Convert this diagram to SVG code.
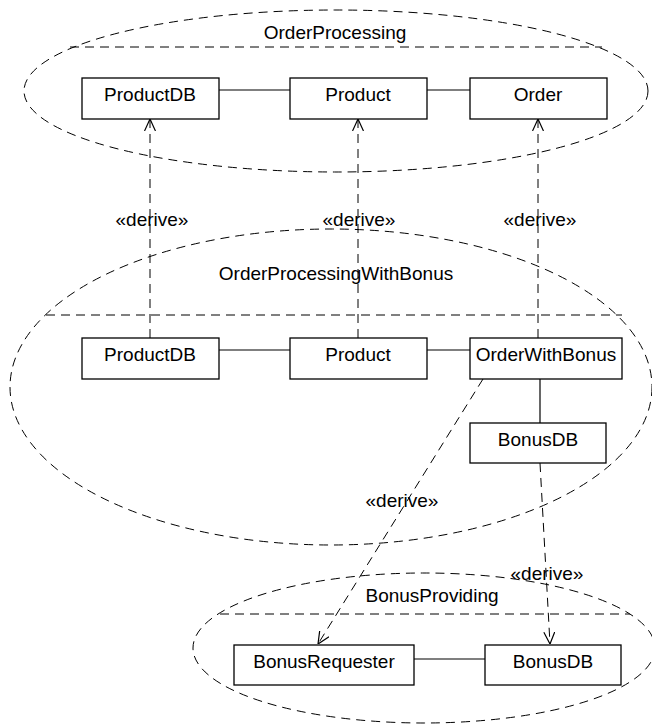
<svg xmlns="http://www.w3.org/2000/svg" width="652" height="725" viewBox="0 0 652 725">
  <style>
    .pkg { fill: none; stroke: #000; stroke-width: 1; stroke-dasharray: 9 6; }
    .box { fill: #fff; stroke: #000; stroke-width: 1.3; }
    .assoc { fill: none; stroke: #000; stroke-width: 1.2; }
    .dep { fill: none; stroke: #000; stroke-width: 1; stroke-dasharray: 9 6; marker-end: url(#open); }
    text { font-family: "Liberation Sans", Arial, sans-serif; font-size: 19px; fill: #000; text-anchor: middle; }
  </style>
  <defs>
    <marker id="open" viewBox="0 0 12 12" refX="12" refY="6" markerWidth="12" markerHeight="12" markerUnits="userSpaceOnUse" orient="auto">
      <path d="M0,0.5 L12,6 L0,11.5" fill="none" stroke="#000" stroke-width="1.2"/>
    </marker>
  </defs>

  <!-- package outlines -->
  <g id="pkg-OrderProcessing">
    <ellipse class="pkg" cx="336" cy="91" rx="312" ry="81"/>
    <line class="pkg" x1="70" y1="47" x2="602" y2="47"/>
    <text x="335" y="39">OrderProcessing</text>
  </g>
  <g id="pkg-OrderProcessingWithBonus">
    <ellipse class="pkg" cx="331" cy="387" rx="321" ry="158"/>
    <line class="pkg" x1="46" y1="315" x2="622" y2="315"/>
    <text x="336" y="280">OrderProcessingWithBonus</text>
  </g>
  <g id="pkg-BonusProviding">
    <ellipse class="pkg" cx="424" cy="648" rx="231" ry="75"/>
    <line class="pkg" x1="220" y1="614" x2="630" y2="614"/>
    <text x="432" y="602">BonusProviding</text>
  </g>

  <!-- connectors -->
  <g id="connectors">
    <line class="assoc" x1="219" y1="90" x2="290" y2="90"/>
    <line class="assoc" x1="427" y1="90" x2="470" y2="90"/>
    <line class="assoc" x1="219" y1="350" x2="290" y2="350"/>
    <line class="assoc" x1="427" y1="350" x2="470" y2="350"/>
    <line class="assoc" x1="540" y1="379" x2="540" y2="423"/>
    <line class="assoc" x1="414" y1="659" x2="485" y2="659"/>

    <line class="dep" x1="150" y1="338" x2="150" y2="119"/>
    <line class="dep" x1="358" y1="338" x2="358" y2="119"/>
    <line class="dep" x1="538" y1="338" x2="538" y2="119"/>
    <line class="dep" x1="483" y1="379" x2="318" y2="644"/>
    <line class="dep" x1="540" y1="463" x2="550" y2="644"/>

    <text x="152" y="226">«derive»</text>
    <text x="359" y="226">«derive»</text>
    <text x="540" y="226">«derive»</text>
    <text x="402" y="507">«derive»</text>
    <text x="547" y="580">«derive»</text>
  </g>

  <!-- classes -->
  <g id="op-ProductDB"><rect class="box" x="82" y="78" width="137" height="41"/><text x="150" y="101">ProductDB</text></g>
  <g id="op-Product"><rect class="box" x="290" y="78" width="137" height="41"/><text x="358" y="101">Product</text></g>
  <g id="op-Order"><rect class="box" x="470" y="78" width="137" height="41"/><text x="538" y="101">Order</text></g>

  <g id="opb-ProductDB"><rect class="box" x="82" y="338" width="137" height="41"/><text x="150" y="361">ProductDB</text></g>
  <g id="opb-Product"><rect class="box" x="290" y="338" width="137" height="41"/><text x="358" y="361">Product</text></g>
  <g id="opb-OrderWithBonus"><rect class="box" x="470" y="338" width="152" height="41"/><text x="546" y="361">OrderWithBonus</text></g>
  <g id="opb-BonusDB"><rect class="box" x="470" y="423" width="136" height="40"/><text x="538" y="446">BonusDB</text></g>

  <g id="bp-BonusRequester"><rect class="box" x="234" y="645" width="180" height="40"/><text x="324" y="668">BonusRequester</text></g>
  <g id="bp-BonusDB"><rect class="box" x="485" y="645" width="136" height="40"/><text x="553" y="668">BonusDB</text></g>
</svg>
